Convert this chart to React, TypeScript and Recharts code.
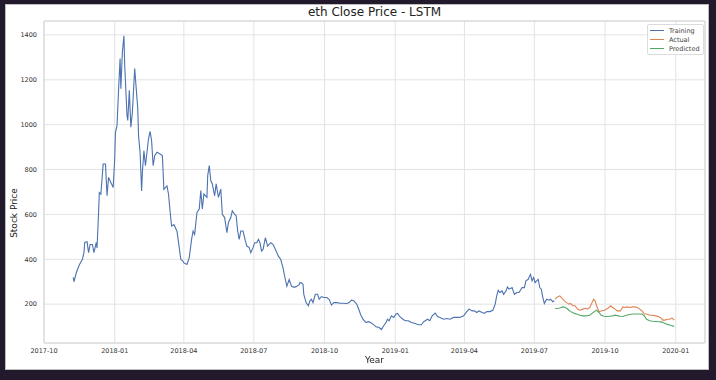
import React from 'react';
import { LineChart, Line, XAxis, YAxis, CartesianGrid, ReferenceArea } from 'recharts';

const trainingDates = [
  '2017-11-08', '2017-11-09', '2017-11-12', '2017-11-16', '2017-11-20', '2017-11-22', '2017-11-23', '2017-11-26',
  '2017-11-28', '2017-11-30', '2017-12-03', '2017-12-05', '2017-12-08', '2017-12-09', '2017-12-11', '2017-12-12',
  '2017-12-14', '2017-12-17', '2017-12-20', '2017-12-22', '2017-12-24', '2017-12-27', '2017-12-30', '2018-01-01',
  '2018-01-02', '2018-01-04', '2018-01-06', '2018-01-08', '2018-01-09', '2018-01-11', '2018-01-13', '2018-01-14',
  '2018-01-17', '2018-01-18', '2018-01-20', '2018-01-22', '2018-01-24', '2018-01-27', '2018-01-30', '2018-01-31',
  '2018-02-01', '2018-02-03', '2018-02-05', '2018-02-06', '2018-02-08', '2018-02-10', '2018-02-12', '2018-02-14',
  '2018-02-16', '2018-02-18', '2018-02-20', '2018-02-22', '2018-02-25', '2018-03-01', '2018-03-04', '2018-03-06',
  '2018-03-10', '2018-03-12', '2018-03-14', '2018-03-16', '2018-03-19', '2018-03-23', '2018-03-26', '2018-03-28',
  '2018-03-31', '2018-04-01', '2018-04-05', '2018-04-08', '2018-04-11', '2018-04-13', '2018-04-15', '2018-04-18',
  '2018-04-21', '2018-04-23', '2018-04-25', '2018-04-27', '2018-05-01', '2018-05-02', '2018-05-04', '2018-05-06',
  '2018-05-08', '2018-05-11', '2018-05-13', '2018-05-16', '2018-05-19', '2018-05-21', '2018-05-24', '2018-05-27',
  '2018-05-29', '2018-06-01', '2018-06-03', '2018-06-06', '2018-06-08', '2018-06-10', '2018-06-12', '2018-06-14',
  '2018-06-17', '2018-06-20', '2018-06-22', '2018-06-25', '2018-06-27', '2018-06-30', '2018-07-02', '2018-07-05',
  '2018-07-07', '2018-07-09', '2018-07-11', '2018-07-13', '2018-07-16', '2018-07-19', '2018-07-23', '2018-07-26',
  '2018-07-30', '2018-08-02', '2018-08-05', '2018-08-08', '2018-08-11', '2018-08-13', '2018-08-16', '2018-08-19',
  '2018-08-23', '2018-08-26', '2018-08-29', '2018-08-30', '2018-09-01', '2018-09-03', '2018-09-04', '2018-09-07',
  '2018-09-10', '2018-09-12', '2018-09-14', '2018-09-16', '2018-09-19', '2018-09-22', '2018-09-24', '2018-09-27',
  '2018-09-30', '2018-10-04', '2018-10-07', '2018-10-10', '2018-10-13', '2018-10-17', '2018-10-21', '2018-10-25',
  '2018-10-30', '2018-11-02', '2018-11-05', '2018-11-08', '2018-11-12', '2018-11-15', '2018-11-17', '2018-11-20',
  '2018-11-24', '2018-11-27', '2018-11-30', '2018-12-03', '2018-12-07', '2018-12-11', '2018-12-14', '2018-12-17',
  '2018-12-20', '2018-12-22', '2018-12-24', '2018-12-27', '2018-12-30', '2019-01-02', '2019-01-04', '2019-01-07',
  '2019-01-11', '2019-01-14', '2019-01-18', '2019-01-22', '2019-01-27', '2019-01-31', '2019-02-04', '2019-02-07',
  '2019-02-09', '2019-02-12', '2019-02-15', '2019-02-18', '2019-02-22', '2019-02-25', '2019-02-28', '2019-03-05',
  '2019-03-09', '2019-03-13', '2019-03-18', '2019-03-22', '2019-03-26', '2019-03-31', '2019-04-04', '2019-04-07',
  '2019-04-11', '2019-04-14', '2019-04-17', '2019-04-20', '2019-04-24', '2019-04-27', '2019-04-30', '2019-05-04',
  '2019-05-08', '2019-05-11', '2019-05-13', '2019-05-15', '2019-05-17', '2019-05-20', '2019-05-22', '2019-05-25',
  '2019-05-27', '2019-05-29', '2019-06-02', '2019-06-05', '2019-06-08', '2019-06-11', '2019-06-15', '2019-06-18',
  '2019-06-20', '2019-06-23', '2019-06-26', '2019-06-28', '2019-06-30', '2019-07-02', '2019-07-04', '2019-07-06',
  '2019-07-08', '2019-07-10', '2019-07-12', '2019-07-14', '2019-07-17', '2019-07-20', '2019-07-22', '2019-07-25',
  '2019-07-27',
];

const trainingPrices = [
  320, 300, 340, 376, 400, 430, 475, 478,
  430, 466, 466, 430, 475, 450, 608, 697,
  690, 825, 825, 683, 765, 742, 720, 847,
  966, 996, 1153, 1295, 1160, 1325, 1396, 1265,
  1041, 1019, 1153, 989, 1056, 1250, 1116, 1071,
  951, 877, 705, 787, 884, 817, 877, 937,
  970, 929, 817, 862, 877, 869, 862, 712,
  727, 690, 615, 548, 555, 525, 451, 400,
  391, 384, 377, 407, 489, 526, 511, 609,
  624, 706, 624, 691, 676, 773, 818, 751,
  736, 683, 736, 676, 713, 601, 586, 519,
  564, 586, 616, 601, 594, 526, 489, 526,
  526, 482, 459, 452, 429, 452, 474, 474,
  489, 474, 437, 444, 496, 459, 474, 467,
  437, 414, 399, 362, 310, 280, 310, 280,
  275, 280, 287, 296, 295, 289, 244, 207,
  193, 215, 222, 207, 244, 244, 222, 234,
  230, 230, 222, 196, 207, 207, 204, 204,
  203, 207, 218, 215, 200, 173, 153, 133,
  118, 122, 118, 111, 99, 96, 87, 104,
  118, 133, 126, 148, 141, 156, 159, 144,
  133, 126, 126, 118, 114, 108, 108, 122,
  126, 133, 126, 148, 160, 145, 141, 133,
  136, 133, 141, 141, 141, 148, 167, 178,
  170, 170, 163, 170, 163, 159, 167, 167,
  173, 200, 237, 262, 252, 259, 244, 259,
  277, 267, 274, 244, 252, 252, 274, 274,
  304, 311, 333, 304, 319, 296, 304, 311,
  274, 267, 230, 203, 222, 218, 222, 211,
  215,
];

const testDates = [
  '2019-07-28', '2019-07-30', '2019-08-03', '2019-08-05', '2019-08-07', '2019-08-09', '2019-08-12', '2019-08-15',
  '2019-08-17', '2019-08-20', '2019-08-23', '2019-08-26', '2019-08-29', '2019-09-02', '2019-09-05', '2019-09-08',
  '2019-09-11', '2019-09-14', '2019-09-16', '2019-09-18', '2019-09-20', '2019-09-23', '2019-09-26', '2019-09-30',
  '2019-10-03', '2019-10-06', '2019-10-08', '2019-10-11', '2019-10-14', '2019-10-17', '2019-10-21', '2019-10-24',
  '2019-10-27', '2019-10-30', '2019-11-02', '2019-11-06', '2019-11-09', '2019-11-12', '2019-11-15', '2019-11-18',
  '2019-11-21', '2019-11-24', '2019-11-28', '2019-12-02', '2019-12-06', '2019-12-10', '2019-12-13', '2019-12-15',
  '2019-12-18', '2019-12-21', '2019-12-24', '2019-12-27', '2019-12-30',
];

const actualPrices = [
  222, 230, 237, 230, 222, 215, 207, 200,
  203, 193, 193, 178, 173, 178, 182, 178,
  185, 207, 222, 215, 193, 167, 170, 173,
  178, 185, 193, 185, 178, 170, 170, 188,
  185, 188, 185, 188, 188, 185, 178, 170,
  156, 156, 151, 151, 148, 144, 138, 129,
  129, 133, 133, 138, 129,
];

const predictedPrices = [
  181, 181, 183, 185, 188, 187, 182, 173,
  168, 162, 158, 155, 151, 148, 148, 149,
  151, 159, 164, 169, 173, 163, 151, 146,
  145, 145, 147, 148, 151, 149, 146, 145,
  148, 152, 154, 156, 156, 156, 156, 156,
  148, 133, 126, 124, 123, 122, 121, 119,
  114, 110, 107, 104, 101,
];

const xTickDates = [
  '2017-10-01', '2018-01-01', '2018-04-01', '2018-07-01', '2018-10-01',
  '2019-01-01', '2019-04-01', '2019-07-01', '2019-10-01', '2020-01-01',
];
const yTicks = [200, 400, 600, 800, 1000, 1200, 1400];

const toTs = (s: string) => Date.parse(s + 'T00:00:00Z');
const X_MIN = toTs('2017-10-01');
const X_MAX = toTs('2020-02-08');
const Y_MIN = 27;
const Y_MAX = 1462;

const COLORS = {
  training: '#4c72b0',
  actual: '#dd8452',
  predicted: '#55a868',
};

const FONT = '"DejaVu Sans", sans-serif';

const training = trainingDates.map((d, i) => ({ t: toTs(d), training: trainingPrices[i] }));
const test = testDates.map((d, i) => ({ t: toTs(d), actual: actualPrices[i], predicted: predictedPrices[i] }));

const fmtMonth = (ts: number) => {
  const d = new Date(ts);
  return `${d.getUTCFullYear()}-${String(d.getUTCMonth() + 1).padStart(2, '0')}`;
};

function LegendBox() {
  const items = [
    { name: 'Training', color: COLORS.training },
    { name: 'Actual', color: COLORS.actual },
    { name: 'Predicted', color: COLORS.predicted },
  ];
  return (
    <div
      style={{
        position: 'absolute',
        left: 647,
        top: 24,
        background: 'rgba(255,255,255,0.85)',
        border: '1px solid #dcdcdc',
        borderRadius: 2,
        padding: '1px 3px 1px 2px',
        fontFamily: FONT,
        fontSize: 6.5,
        color: '#444',
      }}
    >
      {items.map(it => (
        <div key={it.name} style={{ display: 'flex', alignItems: 'center', height: 9 }}>
          <span style={{ display: 'inline-block', width: 14, height: 0, borderTop: `1.2px solid ${it.color}`, marginRight: 5 }} />
          <span>{it.name}</span>
        </div>
      ))}
    </div>
  );
}

export default function App() {
  return (
    <div style={{ position: 'fixed', left: 0, top: 0, width: 716, height: 380, background: '#221a2c' }}>
      <div
        style={{
          position: 'absolute',
          left: 5,
          top: 4,
          width: 702,
          height: 364,
          background: '#ffffff',
          border: '1px solid #bdbdbd',
        }}
      />
      <div
        style={{
          position: 'absolute',
          left: 0,
          top: 5,
          width: 749,
          textAlign: 'center',
          fontFamily: FONT,
          fontSize: 12,
          color: '#222',
        }}
      >
        eth Close Price - LSTM
      </div>
      <div style={{ position: 'absolute', left: 0, top: 0 }}>
        <LineChart width={716} height={380} margin={{ top: 21, right: 11, bottom: 7, left: 0 }}>
          <CartesianGrid stroke="#e3e3e3" strokeWidth={1} />
          <XAxis
            dataKey="t"
            type="number"
            scale="time"
            domain={[X_MIN, X_MAX]}
            allowDataOverflow
            ticks={xTickDates.map(toTs)}
            tickFormatter={fmtMonth}
            height={30}
            axisLine={false}
            tickLine={false}
            tickSize={0}
            tickMargin={5}
            tick={{ fontFamily: FONT, fontSize: 6.5, fill: '#333' }}
          />
          <YAxis
            type="number"
            domain={[Y_MIN, Y_MAX]}
            allowDataOverflow
            ticks={yTicks}
            width={44}
            axisLine={false}
            tickLine={false}
            tickSize={0}
            tickMargin={7}
            tick={{ fontFamily: FONT, fontSize: 6.5, fill: '#333' }}
          />
          <ReferenceArea x1={X_MIN} x2={X_MAX} y1={Y_MIN} y2={Y_MAX} fill="none" stroke="#d4d4d4" strokeWidth={1} />
          <Line
            data={training}
            dataKey="training"
            name="Training"
            stroke={COLORS.training}
            strokeWidth={1.1}
            dot={false}
            type="linear"
            isAnimationActive={false}
          />
          <Line
            data={test}
            dataKey="actual"
            name="Actual"
            stroke={COLORS.actual}
            strokeWidth={1.1}
            dot={false}
            type="linear"
            isAnimationActive={false}
          />
          <Line
            data={test}
            dataKey="predicted"
            name="Predicted"
            stroke={COLORS.predicted}
            strokeWidth={1.1}
            dot={false}
            type="linear"
            isAnimationActive={false}
          />
        </LineChart>
      </div>
      <LegendBox />
      <div
        style={{
          position: 'absolute',
          left: 0,
          top: 355,
          width: 749,
          textAlign: 'center',
          fontFamily: FONT,
          fontSize: 9,
          color: '#222',
        }}
      >
        Year
      </div>
      <div style={{ position: 'absolute', left: 14, top: 213, width: 0, height: 0, fontFamily: FONT, fontSize: 9, color: '#222' }}>
        <div style={{ position: 'absolute', transform: 'translate(-50%, -50%) rotate(-90deg)', whiteSpace: 'nowrap' }}>
          Stock Price
        </div>
      </div>
    </div>
  );
}
